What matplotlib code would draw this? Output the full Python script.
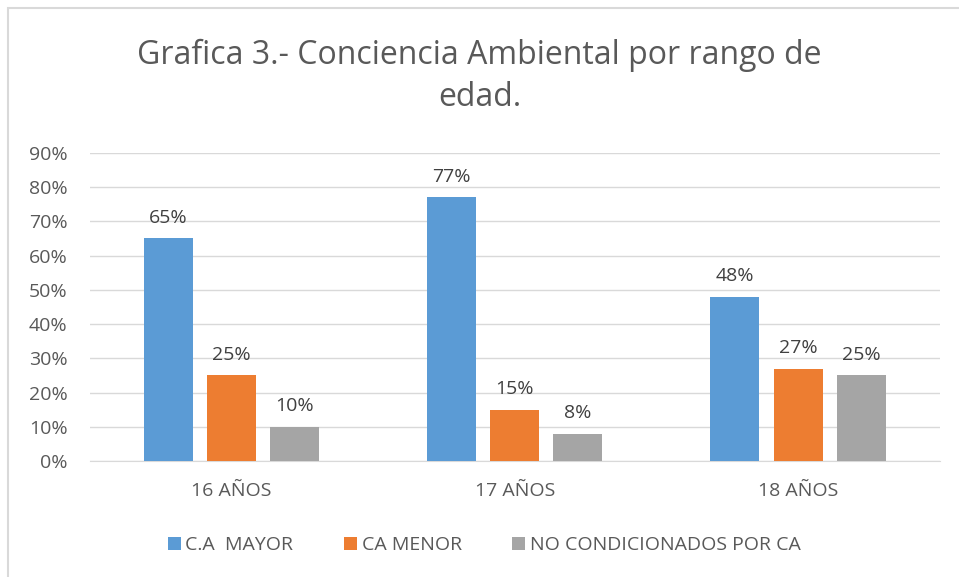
import matplotlib.pyplot as plt
import numpy as np
from matplotlib.patches import Rectangle

edades = ["16 AÑOS", "17 AÑOS", "18 AÑOS"]
series = ["C.A  MAYOR", "CA MENOR", "NO CONDICIONADOS POR CA"]
mayor = [65, 77, 48]
menor = [25, 15, 27]
no_cond = [10, 8, 25]
colores = ["#5b9bd5", "#ed7d31", "#a5a5a5"]

plt.rcParams['font.family'] = ['Open Sans', 'DejaVu Sans']
txt = "#595959"

fig = plt.figure(figsize=(9.59, 5.77), dpi=100)
fig.patches.append(Rectangle((0.008, -0.01), 1.0, 0.996, transform=fig.transFigure,
                             fill=False, edgecolor="#d9d9d9", linewidth=1.5))
ax = fig.add_axes([0.0938, 0.201, 0.886, 0.534])

x = np.arange(len(edades))
w = 0.173
off = 0.223
for i, vals in enumerate([mayor, menor, no_cond]):
    pos = x + (i - 1) * off
    ax.bar(pos, vals, w, color=colores[i], label=series[i], zorder=3)
    for p, v in zip(pos, vals):
        ax.text(p, v + 3.3, f"{v}%", ha="center", va="bottom", fontsize=14, color="#404040")

ax.set_xlim(-0.5, 2.5)
ax.set_ylim(0, 90)
ax.set_yticks(range(0, 91, 10))
ax.set_yticklabels([f"{t}%" for t in range(0, 91, 10)])
ax.set_xticks(x)
ax.set_xticklabels(edades)
ax.yaxis.grid(True, color="#d9d9d9", linewidth=1, zorder=0)
for s in ["top", "right", "left"]:
    ax.spines[s].set_visible(False)
ax.spines["bottom"].set_color("#d9d9d9")
ax.tick_params(axis="both", length=0, labelsize=14, colors=txt)
ax.tick_params(axis="x", pad=15)
ax.tick_params(axis="y", pad=16)

fig.text(0.5, 0.868, "Grafica 3.- Conciencia Ambiental por rango de\nedad.", ha="center", va="center",
         fontsize=23, color=txt, linespacing=1.38)

fig.legend(loc="center", bbox_to_anchor=(0.505, 0.055), ncol=3, frameon=False,
           fontsize=14, labelcolor=txt, handlelength=0.65, handleheight=0.65,
           handletextpad=0.25, columnspacing=2.6)

fig.savefig("out.png", dpi=100)
